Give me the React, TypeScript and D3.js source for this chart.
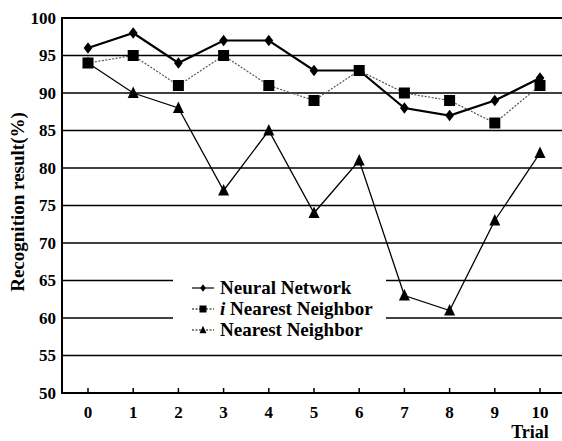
import React from "react";
import * as d3 from "d3";

const trials = [0, 1, 2, 3, 4, 5, 6, 7, 8, 9, 10];
const neuralNetwork = [96, 98, 94, 97, 97, 93, 93, 88, 87, 89, 92];
const iNearestNeighbor = [94, 95, 91, 95, 91, 89, 93, 90, 89, 86, 91];
const nearestNeighbor = [94, 90, 88, 77, 85, 74, 81, 63, 61, 73, 82];
const yTicks = [50, 55, 60, 65, 70, 75, 80, 85, 90, 95, 100];
const legendLabels = ["Neural Network", "i Nearest Neighbor", "Nearest Neighbor"];

const W = 562;
const H = 441;
const FONT = "Liberation Serif, Times New Roman, Times, serif";

const left = 62;
const right = 562;
const top = 18;
const bottom = 393;

const x = d3.scaleLinear().domain([0, 10]).range([88, 540]);
const y = d3.scaleLinear().domain([50, 100]).range([bottom, top]);

type Shape = "diamond" | "square" | "triangle";

function Marker({ cx, cy, shape, s }: { cx: number; cy: number; shape: Shape; s: number }) {
  if (shape === "diamond") {
    const w = s * 0.8, h = s * 1.05;
    return <path d={`M${cx},${cy - h / 2}L${cx + w / 2},${cy}L${cx},${cy + h / 2}L${cx - w / 2},${cy}Z`} fill="#000" />;
  }
  if (shape === "square") {
    return <rect x={cx - s / 2} y={cy - s / 2} width={s} height={s} fill="#000" />;
  }
  return <path d={`M${cx},${cy - s * 0.6}L${cx + s / 2},${cy + s * 0.45}L${cx - s / 2},${cy + s * 0.45}Z`} fill="#000" />;
}

export default function App() {
  const line = d3
    .line<number>()
    .x((_, i) => x(trials[i]))
    .y((v) => y(v));

  const series: { data: number[]; shape: Shape; width: number; color: string; dash?: string; size: number }[] = [
    { data: nearestNeighbor, shape: "triangle", width: 1.3, color: "#000", size: 11 },
    { data: iNearestNeighbor, shape: "square", width: 1.2, color: "#555", dash: "2,1.5", size: 11 },
    { data: neuralNetwork, shape: "diamond", width: 2.2, color: "#000", size: 11 },
  ];

  const legendRows = [
    { label: legendLabels[0], shape: "diamond" as Shape, dash: undefined, italicI: false },
    { label: legendLabels[1], shape: "square" as Shape, dash: "2,1.5", italicI: true },
    { label: legendLabels[2], shape: "triangle" as Shape, dash: "2,1.5", italicI: false },
  ];

  return (
    <svg width={W} height={H} style={{ position: "absolute", left: 0, top: 0, background: "#fff" }}>
      <rect x={0} y={0} width={W} height={H} fill="#fff" />
      {yTicks.slice(1).map((t) => (
        <line key={t} x1={left} x2={right} y1={y(t)} y2={y(t)} stroke="#000" strokeWidth={t === 100 ? 1.8 : 1.3} />
      ))}
      <rect x={173} y={268} width={213} height={74} fill="#fff" />
      <line x1={left} x2={left} y1={top - 1} y2={bottom + 1} stroke="#000" strokeWidth={2} />
      <line x1={left - 1} x2={right} y1={bottom} y2={bottom} stroke="#000" strokeWidth={2} />
      {trials.map((t) => (
        <line key={t} x1={x(t)} x2={x(t)} y1={bottom} y2={bottom - 5} stroke="#000" strokeWidth={1.5} />
      ))}
      {yTicks.map((t) => (
        <text key={t} x={56} y={y(t)} dy="0.35em" textAnchor="end" fontFamily={FONT} fontWeight="bold" fontSize={17}>
          {t}
        </text>
      ))}
      {trials.map((t) => (
        <text key={t} x={x(t)} y={418} textAnchor="middle" fontFamily={FONT} fontWeight="bold" fontSize={17}>
          {t}
        </text>
      ))}
      <text x={530} y={438} textAnchor="middle" fontFamily={FONT} fontWeight="bold" fontSize={18}>
        Trial
      </text>
      <text
        transform={`translate(24,202) rotate(-90)`}
        textAnchor="middle"
        fontFamily={FONT}
        fontWeight="bold"
        fontSize={19}
      >
        Recognition result(%)
      </text>
      {series.map((s, k) => (
        <g key={k}>
          <path d={line(s.data) || ""} fill="none" stroke={s.color} strokeWidth={s.width} strokeDasharray={s.dash} />
          {s.data.map((v, i) => (
            <Marker key={i} cx={x(trials[i])} cy={y(v)} shape={s.shape} s={s.size} />
          ))}
        </g>
      ))}
      {legendRows.map((r, i) => {
        const cy = 288 + i * 21;
        return (
          <g key={i}>
            <line x1={192} x2={214} y1={cy} y2={cy} stroke="#000" strokeWidth={1.2} strokeDasharray={r.dash} />
            <Marker cx={203} cy={cy} shape={r.shape} s={7} />
            <text x={220} y={cy + 6} fontFamily={FONT} fontWeight="bold" fontSize={19}>
              {r.italicI ? (
                <>
                  <tspan fontStyle="italic">i</tspan>
                  {r.label.slice(1)}
                </>
              ) : (
                r.label
              )}
            </text>
          </g>
        );
      })}
    </svg>
  );
}
